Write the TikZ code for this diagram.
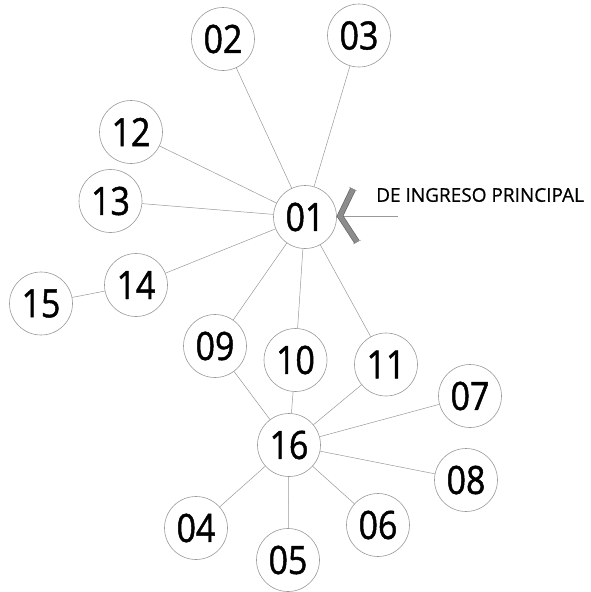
\documentclass[tikz,border=0pt]{standalone}
\usepackage{fontspec}
\setmainfont{Open Sans}
\newfontfamily\numfont[FakeStretch=0.87,FakeBold=1.2]{Open Sans}
\newfontfamily\labfont[FakeBold=0.6]{Open Sans}
\begin{document}
\begin{tikzpicture}[x=1pt,y=-1pt,
  ball/.style={circle,draw=black!40,line width=0.6pt,minimum size=63pt,inner sep=0pt,
    font=\numfont\fontsize{39}{39}\selectfont},
  link/.style={draw=black!40,line width=0.5pt}]
\useasboundingbox (0,0) rectangle (590,592);
\node[ball] (n01) at (305,217) {01};
\node[ball] (n02) at (223,39) {02};
\node[ball] (n03) at (359,35.5) {03};
\node[ball] (n12) at (131,132) {12};
\node[ball] (n13) at (110.5,201) {13};
\node[ball] (n14) at (136,285) {14};
\node[ball] (n15) at (41,303.5) {15};
\node[ball] (n09) at (215,346) {09};
\node[ball] (n10) at (295.5,360) {10};
\node[ball] (n11) at (386,364.5) {11};
\node[ball] (n16) at (289,445) {16};
\node[ball] (n07) at (470,396) {07};
\node[ball] (n08) at (466,480) {08};
\node[ball] (n04) at (196,528) {04};
\node[ball] (n05) at (288,560) {05};
\node[ball] (n06) at (378,525) {06};
\foreach \a/\b in {n01/n02,n01/n03,n01/n12,n01/n13,n01/n14,n01/n09,n01/n10,n01/n11,n14/n15,
  n16/n09,n16/n10,n16/n11,n16/n07,n16/n08,n16/n04,n16/n05,n16/n06}
  \draw[link] (\a) -- (\b);
% entrance marker
\coordinate (ctop) at (353,189);
\coordinate (ctip) at (340,216);
\coordinate (cbot) at (357,242);
\coordinate (lend) at (398,216);
\draw[link] (ctip) -- (lend);
\draw[line width=6pt,black!60,miter limit=10] (ctop) -- (ctip) -- (cbot);
\draw[line width=4.6pt,black!45,miter limit=10] (ctop) -- (ctip) -- (cbot);
\draw[black!45,line width=0.4pt] ([shift={(-4,-2)}]ctop) -- ([shift={(4,2)}]ctop);
\draw[black!45,line width=0.4pt] ([shift={(-4,2)}]cbot) -- ([shift={(4,-2)}]cbot);
\node[anchor=west,inner sep=0pt,font=\labfont\fontsize{19}{19}\selectfont] (lab) at (376,195) {DE INGRESO PRINCIPAL};
\end{tikzpicture}
\end{document}
